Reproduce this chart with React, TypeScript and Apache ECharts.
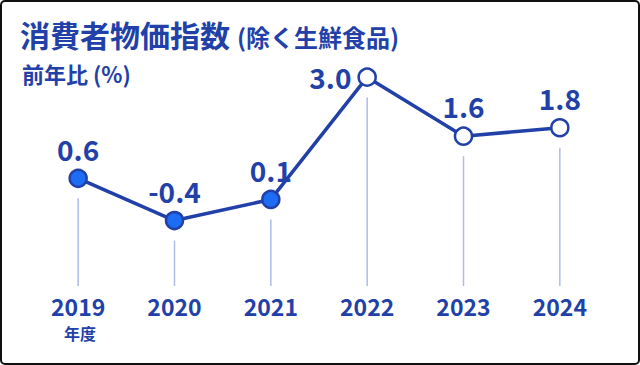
import React, { useEffect, useRef } from "react";
import * as echarts from "echarts";

const categories = ["2019", "2020", "2021", "2022", "2023", "2024"];
const values = [0.6, -0.4, 0.1, 3.0, 1.6, 1.8];
const markerFilled = [true, true, true, false, false, false];
const labelPositions = ["top", "top", "top", "left", "top", "top"];
const titleMain = "消費者物価指数";
const titleSub = "(除く生鮮食品)";
const unitLabel = "前年比 (%)";
const yearUnit = "年度";

const BLUE = "#2241a8";
const FILL = "#1c6cf4";
const FONT = '"Noto Sans CJK JP", "Noto Sans", sans-serif';

export default function App() {
  const ref = useRef<HTMLDivElement>(null);
  useEffect(() => {
    document.body.style.margin = "0";
    if (!ref.current) return;
    const chart = echarts.init(ref.current, undefined, { renderer: "svg" });
    chart.setOption({
      animation: false,
      backgroundColor: "#ffffff",
      textStyle: { fontFamily: FONT },
      grid: { left: 30, right: 32, top: 35, bottom: 77 },
      xAxis: {
        type: "category",
        data: categories,
        axisLine: { show: false },
        axisTick: { show: false },
        axisLabel: {
          margin: 6,
          fontSize: 23,
          lineHeight: 23,
          fontWeight: "bold",
          color: BLUE,
          fontFamily: FONT,
          verticalAlign: "top",
        },
      },
      yAxis: {
        type: "value",
        min: -2,
        max: 4,
        show: false,
        splitLine: { show: false },
      },
      graphic: [
        {
          type: "rect",
          silent: true,
          shape: { x: 1, y: 1, width: 638, height: 363, r: 4 },
          style: { fill: "none", stroke: "#111111", lineWidth: 2 },
        },
        {
          type: "text",
          left: 20,
          top: 19,
          style: {
            text: titleMain,
            fill: BLUE,
            font: `bold 30px ${FONT}`,
          },
        },
        {
          type: "text",
          left: 237,
          top: 24,
          style: {
            text: titleSub,
            fill: BLUE,
            font: `bold 24px ${FONT}`,
          },
        },
        {
          type: "text",
          left: 22,
          top: 62,
          style: {
            text: unitLabel,
            fill: BLUE,
            font: `bold 22px ${FONT}`,
          },
        },
        {
          type: "text",
          x: 80,
          y: 333,
          style: {
            text: yearUnit,
            fill: BLUE,
            font: `bold 16px ${FONT}`,
            textAlign: "center",
            textVerticalAlign: "middle",
          },
        },
      ],
      series: [
        {
          type: "custom",
          z: 1,
          silent: true,
          data: values.map((v, i) => [i, v]),
          renderItem: (params: any, api: any) => {
            const p = api.coord([api.value(0), api.value(1)]);
            const bottom = params.coordSys.y + params.coordSys.height;
            return {
              type: "line",
              shape: { x1: p[0], y1: p[1] + 20, x2: p[0], y2: bottom - 2 },
              style: { stroke: "#afbde6", lineWidth: 1.5 },
            };
          },
        },
        {
          type: "line",
          z: 3,
          data: values.map((v, i) => ({
            value: v,
            itemStyle: { color: markerFilled[i] ? FILL : "#ffffff", borderColor: BLUE, borderWidth: 2.5 },
            label: { position: labelPositions[i] },
          })),
          symbol: "circle",
          symbolSize: 17,
          lineStyle: { color: BLUE, width: 3.5 },
          label: {
            show: true,
            formatter: (p: any) => Number(p.value).toFixed(1),
            color: BLUE,
            fontSize: 28,
            fontWeight: "bold",
            fontFamily: FONT,
            distance: 6,
          },
        },
      ],
    });
    return () => chart.dispose();
  }, []);
  return <div ref={ref} style={{ width: 640, height: 365 }} />;
}
